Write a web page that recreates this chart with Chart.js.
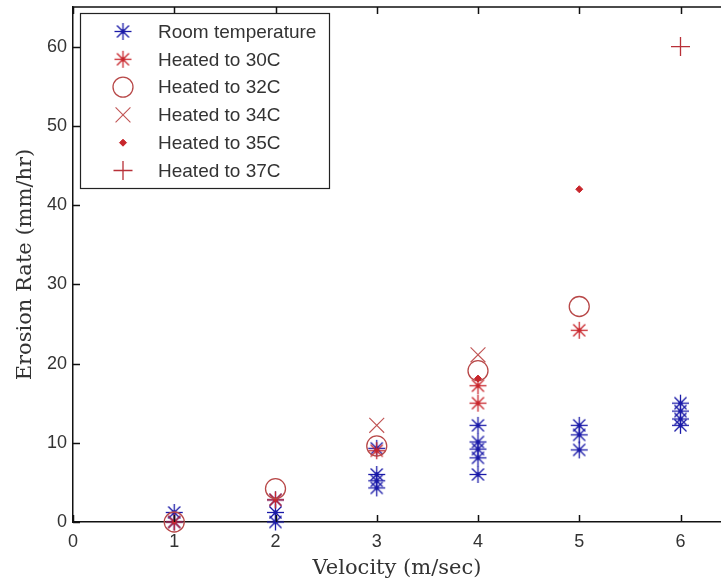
<!DOCTYPE html>
<html>
<head>
<meta charset="utf-8">
<script src="https://cdn.jsdelivr.net/npm/chart.js@4.4.1/dist/chart.umd.min.js"></script>
<style>
    html, body { margin: 0; padding: 0; background: #fff; overflow: hidden; }
    #wrap { width: 721px; height: 583px; }
</style>
</head>
<body>
<div id="wrap"><canvas id="erosionCanvas"></canvas></div>
<script>
// Values: velocity (m/sec) and erosion rate (mm/hr)
const roomVelocity = [1, 1, 2, 2, 2, 3, 3, 3, 3, 4, 4, 4, 4, 4, 5, 5, 5, 6, 6, 6, 6];
const roomRate = [1.2, 0, 0, 1.2, 2.8, 9.3, 6, 5.2, 4.3, 12.2, 10.1, 9.2, 8.1, 6, 12.2, 11, 9.1, 15, 14, 13, 12.2];
const heated30Velocity = [1, 2, 3, 4, 4, 5];
const heated30Rate = [0, 2.8, 9, 17.2, 15, 24.2];
const heated32Velocity = [1, 2, 3, 4, 5];
const heated32Rate = [0, 4.2, 9.6, 19.1, 27.2];
const heated34Velocity = [3, 4];
const heated34Rate = [12.2, 21.1];
const heated35Velocity = [4, 5];
const heated35Rate = [18.1, 42];
const heated37Velocity = [6];
const heated37Rate = [60];

const xTicks = [0, 1, 2, 3, 4, 5, 6];
const yTicks = [0, 10, 20, 30, 40, 50, 60];

const blue = "#1a1aa8";
const red = "#c8262c";

function toPoints(xs, ys) {
    return xs.map((x, i) => ({ x: x, y: ys[i] }));
}

// matlab style asterisk with the dark centre blob
function makeAsterisk(color) {
    const c = document.createElement("canvas");
    c.width = 21;
    c.height = 21;
    const g = c.getContext("2d");
    g.strokeStyle = color;
    g.lineWidth = 1.3;
    const r = 8.5;
    for (let k = 0; k < 4; k++) {
        const a = k * Math.PI / 4;
        g.beginPath();
        g.moveTo(10.5 - Math.cos(a) * r, 10.5 - Math.sin(a) * r);
        g.lineTo(10.5 + Math.cos(a) * r, 10.5 + Math.sin(a) * r);
        g.stroke();
    }
    g.fillStyle = color;
    g.beginPath();
    g.arc(10.5, 10.5, 2.2, 0, Math.PI * 2);
    g.fill();
    return c;
}

const blueStar = makeAsterisk(blue);
const redStar = makeAsterisk(red);

// Inward ticks, top border and the legend box inside the axes
const matlabAxes = {
    id: "matlabAxes",
    afterDraw(chart) {
        const ctx = chart.ctx;
        const area = chart.chartArea;
        const xs = chart.scales.x;
        const ys = chart.scales.y;
        ctx.save();
        ctx.strokeStyle = "#111";
        ctx.lineWidth = 1.5;
        ctx.beginPath();
        ctx.moveTo(area.left, area.top);
        ctx.lineTo(area.right, area.top);
        xTicks.forEach((v) => {
            const px = Math.round(xs.getPixelForValue(v)) + 0.5;
            ctx.moveTo(px, area.bottom);
            ctx.lineTo(px, area.bottom - 7);
            ctx.moveTo(px, area.top);
            ctx.lineTo(px, area.top + 7);
        });
        yTicks.forEach((v) => {
            const py = Math.round(ys.getPixelForValue(v)) + 0.5;
            ctx.moveTo(area.left, py);
            ctx.lineTo(area.left + 7, py);
        });
        ctx.stroke();

        // legend
        const box = { left: 80.5, top: 13.5, right: 329.5, bottom: 188.5 };
        ctx.fillStyle = "#fff";
        ctx.fillRect(box.left, box.top, box.right - box.left, box.bottom - box.top);
        ctx.lineWidth = 1.2;
        ctx.strokeStyle = "#222";
        ctx.strokeRect(box.left, box.top, box.right - box.left, box.bottom - box.top);
        ctx.font = "19px 'Liberation Sans', Arial, sans-serif";
        ctx.textBaseline = "middle";
        ctx.textAlign = "left";
        chart.data.datasets.forEach((ds, i) => {
            const y = 31.5 + i * 27.8;
            ctx.strokeStyle = ds.borderColor;
            ctx.fillStyle = ds.backgroundColor;
            ctx.lineWidth = ds.borderWidth;
            Chart.helpers.drawPoint(ctx, {
                pointStyle: ds.pointStyle,
                radius: ds.pointRadius,
                rotation: 0,
                borderWidth: ds.borderWidth,
            }, 123, y);
            ctx.fillStyle = "#333";
            ctx.fillText(ds.label, 158, y + 1);
        });
        ctx.restore();
    },
};

const ctx = document.getElementById("erosionCanvas").getContext("2d");
const erosionChart = new Chart(ctx, {
    type: "scatter",
    data: {
        datasets: [
            { label: "Room temperature", data: toPoints(roomVelocity, roomRate), pointStyle: blueStar, pointRadius: 9, borderColor: blue, backgroundColor: blue, borderWidth: 1.3, order: 6 },
            { label: "Heated to 30C", data: toPoints(heated30Velocity, heated30Rate), pointStyle: redStar, pointRadius: 9, borderColor: red, backgroundColor: red, borderWidth: 1.3, order: 5 },
            { label: "Heated to 32C", data: toPoints(heated32Velocity, heated32Rate), pointStyle: "circle", pointRadius: 10, borderColor: "#b84848", backgroundColor: "rgba(0,0,0,0)", borderWidth: 1.3, order: 4 },
            { label: "Heated to 34C", data: toPoints(heated34Velocity, heated34Rate), pointStyle: "crossRot", pointRadius: 10.5, borderColor: "#c05454", backgroundColor: "#c05454", borderWidth: 1.1, order: 3 },
            { label: "Heated to 35C", data: toPoints(heated35Velocity, heated35Rate), pointStyle: "rectRot", pointRadius: 3.5, borderColor: red, backgroundColor: red, borderWidth: 1, order: 2 },
            { label: "Heated to 37C", data: toPoints(heated37Velocity, heated37Rate), pointStyle: "cross", pointRadius: 9.5, borderColor: "#b83038", backgroundColor: "#b83038", borderWidth: 1.3, order: 1 },
        ],
    },
    options: {
        responsive: true,
        maintainAspectRatio: false,
        animation: false,
        layout: { autoPadding: false, padding: { top: 7, right: 0, left: 0, bottom: 0 } },
        elements: { point: { hoverRadius: 9 } },
        datasets: { scatter: { clip: false } },
        plugins: {
            legend: { display: false },
            tooltip: { enabled: false },
        },
        scales: {
            x: {
                type: "linear",
                min: 0,
                max: 6.4,
                afterBuildTicks: (scale) => { scale.ticks = xTicks.map((v) => ({ value: v })); },
                afterFit: (scale) => {
                    scale.height = 61;
                    scale.paddingRight = 0;
                    scale.paddingLeft = 0;
                },
                grid: { display: false, drawTicks: false },
                border: { display: true, color: "#111", width: 1.5 },
                ticks: { padding: 9, color: "#333", font: { family: "'Liberation Sans', Arial, sans-serif", size: 18 } },
                title: {
                    display: true,
                    text: "Velocity (m/sec)",
                    color: "#333",
                    font: { family: "'DejaVu Serif', serif", size: 21 },
                    padding: { top: 0, bottom: 2 },
                },
            },
            y: {
                type: "linear",
                min: 0,
                max: 65,
                afterBuildTicks: (scale) => { scale.ticks = yTicks.map((v) => ({ value: v })); },
                afterFit: (scale) => {
                    scale.width = 73;
                    scale.paddingTop = 0;
                    scale.paddingBottom = 0;
                },
                grid: { display: false, drawTicks: false },
                border: { display: true, color: "#111", width: 1.5 },
                ticks: { padding: 6, color: "#333", font: { family: "'Liberation Sans', Arial, sans-serif", size: 18 } },
                title: {
                    display: true,
                    text: "Erosion Rate (mm/hr)",
                    color: "#333",
                    font: { family: "'DejaVu Serif', serif", size: 21 },
                    padding: { top: 13, bottom: 0 },
                },
            },
        },
    },
    plugins: [matlabAxes],
});
</script>
</body>
</html>
